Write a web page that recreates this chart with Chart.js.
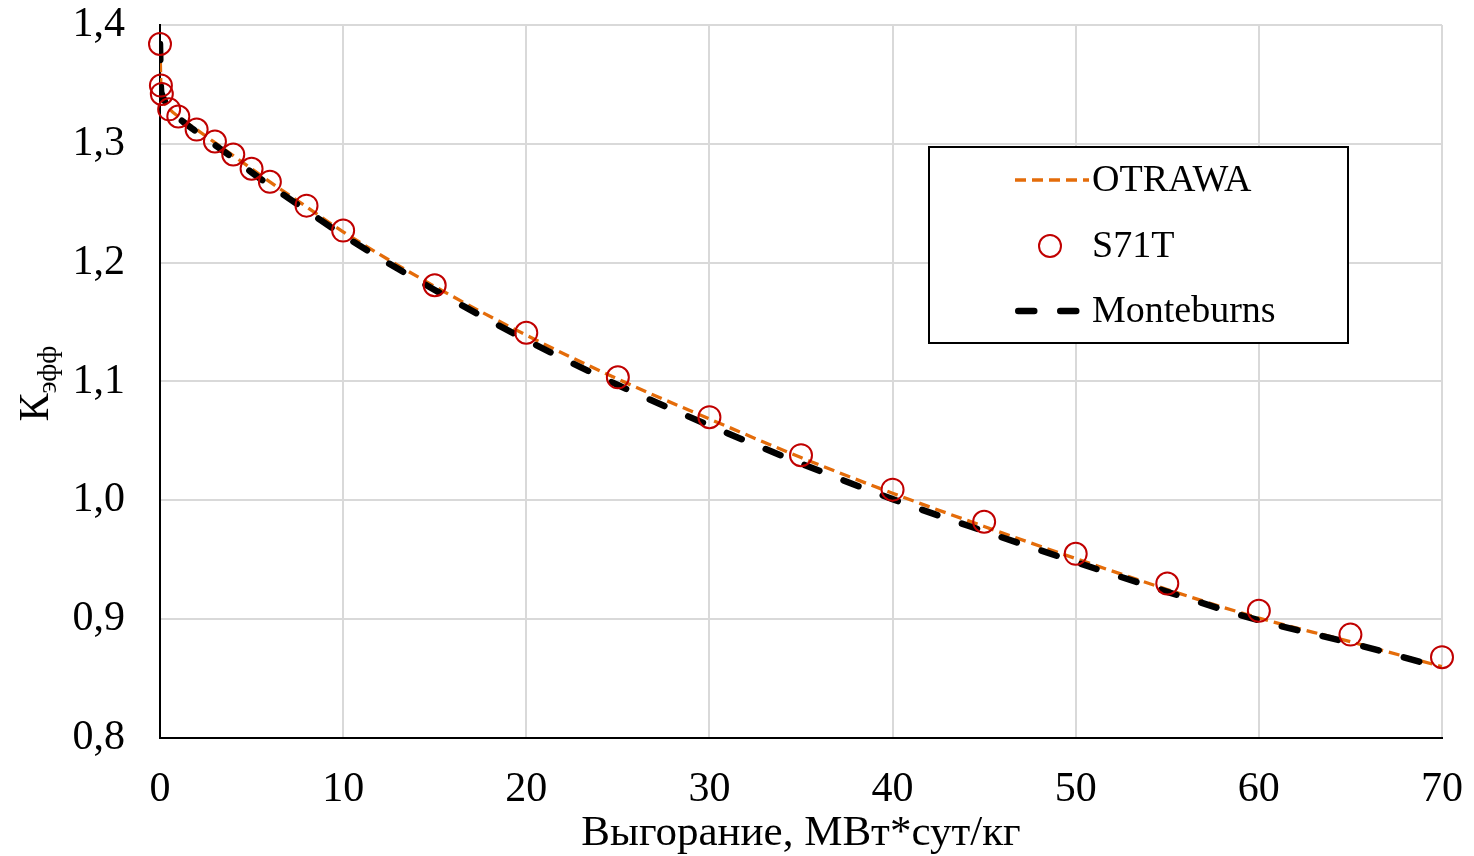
<!DOCTYPE html>
<html><head><meta charset="utf-8">
<script src="https://cdn.jsdelivr.net/npm/chart.js@4.4.1/dist/chart.umd.min.js"></script>
<style>html,body{margin:0;padding:0;background:#fff;} #wrap{width:1474px;height:856px;position:relative;}</style>
</head><body><div id="wrap"><canvas id="c" width="1474" height="856"></canvas></div>
<script>
// ---- data ----
const burnup = [0, 0.05, 0.1, 0.5, 1, 2, 3, 4, 5, 6, 8, 10, 15, 20, 25, 30, 35, 40, 45, 50, 55, 60, 65, 70];
const kS71T = [1.384, 1.349, 1.342, 1.329, 1.323, 1.312, 1.302, 1.291, 1.279, 1.268, 1.248, 1.227, 1.181, 1.141, 1.1035, 1.070, 1.038, 1.009, 0.982, 0.955, 0.930, 0.907, 0.887, 0.868];
const kOTRAWA = [1.384, 1.349, 1.342, 1.330, 1.323, 1.312, 1.301, 1.290, 1.279, 1.268, 1.247, 1.226, 1.180, 1.139, 1.102, 1.0685, 1.036, 1.006, 0.978, 0.951, 0.925, 0.901, 0.881, 0.860];
const kMonteburns = [1.384, 1.347, 1.342, 1.330, 1.322, 1.310, 1.299, 1.288, 1.276, 1.265, 1.244, 1.223, 1.177, 1.135, 1.097, 1.063, 1.031, 1.001, 0.974, 0.948, 0.923, 0.899, 0.880, 0.859];
const yTickValues = [0.8, 0.9, 1.0, 1.1, 1.2, 1.3, 1.4];
const yTickLabels = ['0,8', '0,9', '1,0', '1,1', '1,2', '1,3', '1,4'];
const xTickValues = [0, 10, 20, 30, 40, 50, 60, 70];
const xTickLabels = ['0', '10', '20', '30', '40', '50', '60', '70'];
const seriesNames = ['OTRAWA', 'S71T', 'Monteburns'];
const xTitle = 'Выгорание, МВт*сут/кг';
const yTitleMain = 'К';
const yTitleSub = 'эфф';

const FONT = '"Liberation Serif", "Times New Roman", serif';
Chart.defaults.color = '#000';
Chart.defaults.font.family = FONT;

const pts = arr => burnup.map((x, i) => ({x: x, y: arr[i]}));

const yTitlePlugin = {
  id: 'yTitle',
  afterDraw(chart) {
    const ctx = chart.ctx, a = chart.chartArea;
    ctx.save();
    ctx.fillStyle = '#000';
    ctx.textBaseline = 'alphabetic';
    ctx.textAlign = 'left';
    const mainFont = '42px ' + FONT, subFont = '28px ' + FONT;
    ctx.font = mainFont; const w1 = ctx.measureText(yTitleMain).width;
    ctx.font = subFont; const w2 = ctx.measureText(yTitleSub).width;
    ctx.translate(48, (a.top + a.bottom) / 2 + 2);
    ctx.rotate(-Math.PI / 2);
    const start = -(w1 + w2) / 2;
    ctx.font = mainFont; ctx.fillText(yTitleMain, start, 0);
    ctx.font = subFont; ctx.fillText(yTitleSub, start + w1, 8);
    ctx.restore();
  }
};

const legendPlugin = {
  id: 'customLegend',
  afterDraw(chart) {
    const ctx = chart.ctx, a = chart.chartArea;
    const ds = chart.data.datasets;
    const byName = n => ds.find(d => d.label === n);
    const bx = a.left + 769, by = a.top + 122, bw = 419, bh = 196;
    ctx.save();
    ctx.fillStyle = '#fff'; ctx.fillRect(bx, by, bw, bh);
    ctx.strokeStyle = '#000'; ctx.lineWidth = 2; ctx.strokeRect(bx, by, bw, bh);
    const rows = [by + 33, by + 99, by + 164];
    const tx = bx + 163;
    seriesNames.forEach((name, i) => {
      const d = byName(name), y = rows[i];
      ctx.save();
      if (d.showLine) {
        ctx.strokeStyle = d.borderColor;
        ctx.lineWidth = d.borderWidth;
        ctx.setLineDash(d.borderDash || []);
        ctx.lineCap = d.borderCapStyle || 'butt';
        ctx.beginPath();
        const x0 = bx + 86 + (d.borderCapStyle === 'round' ? d.borderWidth / 2 : 0);
        const x1 = name === 'OTRAWA' ? bx + 160 : bx + 151;
        ctx.moveTo(x0, y); ctx.lineTo(x1, y); ctx.stroke();
      } else {
        ctx.strokeStyle = d.pointBorderColor;
        ctx.lineWidth = d.pointBorderWidth;
        ctx.beginPath(); ctx.arc(bx + 121, y, d.pointRadius, 0, Math.PI * 2); ctx.stroke();
      }
      ctx.restore();
      ctx.fillStyle = '#000';
      ctx.font = '38px ' + FONT;
      ctx.textBaseline = 'middle';
      ctx.textAlign = 'left';
      ctx.fillText(name, tx, y + 1);
    });
    ctx.restore();
  }
};

new Chart(document.getElementById('c'), {
  type: 'scatter',
  data: {
    datasets: [
      {label: seriesNames[1], data: pts(kS71T), showLine: false, pointStyle: 'circle',
       pointRadius: 11, pointHoverRadius: 11, pointBorderColor: '#c00000', pointBackgroundColor: 'rgba(0,0,0,0)',
       pointBorderWidth: 2, order: 0, clip: false},
      {label: seriesNames[2], data: pts(kMonteburns), showLine: true, borderColor: '#000', borderWidth: 6.5,
       borderDash: [16, 26], borderCapStyle: 'round', pointRadius: 0, cubicInterpolationMode: 'monotone', order: 1},
      {label: seriesNames[0], data: pts(kOTRAWA), showLine: true, borderColor: '#e46c0a', borderWidth: 3.3,
       borderDash: [11, 6], pointRadius: 0, cubicInterpolationMode: 'monotone', order: 2}
    ]
  },
  options: {
    responsive: false, animation: false, devicePixelRatio: 1,
    layout: {padding: {top: 25, right: 32, left: 0, bottom: 0}},
    plugins: {legend: {display: false}, tooltip: {enabled: false}},
    scales: {
      x: {
        type: 'linear', min: 0, max: 70,
        afterBuildTicks: s => { s.ticks = xTickValues.map(v => ({value: v})); },
        afterFit: s => { s.height = 118; s.paddingLeft = 0; s.paddingRight = 0; },
        ticks: {padding: 27, font: {size: 42, family: FONT}, color: '#000', maxRotation: 0,
                callback: v => xTickLabels[xTickValues.indexOf(v)]},
        grid: {color: '#d9d9d9', lineWidth: 2, drawTicks: false},
        border: {display: true, color: '#000', width: 2},
        title: {display: true, text: xTitle, font: {size: 43, family: FONT}, color: '#000', padding: {top: 0, bottom: -4}}
      },
      y: {
        type: 'linear', min: 0.8, max: 1.4,
        afterBuildTicks: s => { s.ticks = yTickValues.map(v => ({value: v})); },
        afterFit: s => { s.width = 160; s.paddingTop = 0; s.paddingBottom = 0; },
        ticks: {padding: 35, font: {size: 42, family: FONT}, color: '#000',
                callback: v => yTickLabels[yTickValues.findIndex(t => Math.abs(t - v) < 1e-9)]},
        grid: {color: '#d9d9d9', lineWidth: 2, drawTicks: false},
        border: {display: true, color: '#000', width: 2}
      }
    }
  },
  plugins: [yTitlePlugin, legendPlugin]
});
</script></body></html>
